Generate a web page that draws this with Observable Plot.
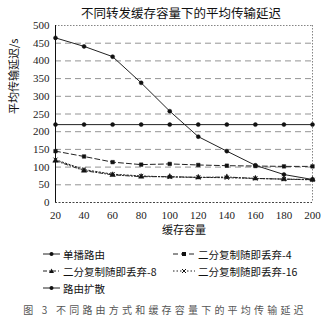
<!DOCTYPE html>
<html><head><meta charset="utf-8">
<script src="https://cdn.jsdelivr.net/npm/d3@7"></script>
<script src="https://cdn.jsdelivr.net/npm/@observablehq/plot@0.6"></script>
<style>
body{margin:0;background:#fff;width:330px;height:324px;overflow:hidden;font-family:"Noto Sans CJK SC",sans-serif;}
#title{height:18px;line-height:18px;font-size:12.5px;text-align:center;padding-left:32px;color:#111;padding-top:4px;box-sizing:border-box;height:18px}
#legend{position:relative;height:54px;font-size:10.5px;color:#111}
.item{position:absolute;display:flex;align-items:center;height:14px}
.item svg{margin-right:3px}
#caption{font-size:10px;color:#555;letter-spacing:3.2px;text-align:center;margin-top:4px}
</style></head><body>
<div id="title">不同转发缓存容量下的平均传输延迟</div>
<div id="chart"></div>
<div id="legend"></div>
<div id="caption">图 3 不同路由方式和缓存容量下的平均传输延迟</div>
<script>
const buffer = [20,40,60,80,100,120,140,160,180,200];
const unicast = [220,220,220,220,220,220,220,220,220,220];
const split4 = [145,130,114,107,109,106,104,103,102,102];
const split8 = [118,90,78,73,73,71,72,68,66,65];
const split16 = [121,93,80,75,72,71,70,68,66,64];
const epidemic = [465,441,412,338,258,186,145,105,79,65];
const seriesNames = ["单播路由","二分复制随即丢弃-4","二分复制随即丢弃-8","二分复制随即丢弃-16","路由扩散"];
const yTicks = [0,50,100,150,200,250,300,350,400,450,500];
const styles = {
  "单播路由":{dash:null,symbol:"circle"},
  "二分复制随即丢弃-4":{dash:"5,3",symbol:"square"},
  "二分复制随即丢弃-8":{dash:"4,2,1,2",symbol:"triangle"},
  "二分复制随即丢弃-16":{dash:"1.5,2",symbol:"times"},
  "路由扩散":{dash:null,symbol:"circle"}
};
const allVals = [unicast,split4,split8,split16,epidemic];
const data = [];
seriesNames.forEach((s,i)=>buffer.forEach((b,j)=>data.push({s,x:b,y:allVals[i][j]})));

const marks = [
  Plot.ruleY(yTicks.filter(d=>d>0&&d<500),{stroke:"#888",strokeDasharray:"6,4",strokeWidth:0.9}),
  Plot.ruleY([500],{stroke:"#777",strokeDasharray:"1.5,1.5",strokeWidth:0.9}),
  Plot.ruleY([0],{stroke:"#444",strokeDasharray:"2,1.5",strokeWidth:1}),
  Plot.ruleX([200],{stroke:"#777",strokeDasharray:"1.5,1.5",strokeWidth:0.9}),
  Plot.ruleX([20],{stroke:"#111",strokeWidth:1})
];
seriesNames.forEach(s=>{
  const d = data.filter(r=>r.s===s);
  marks.push(Plot.line(d,{x:"x",y:"y",stroke:"#222",strokeWidth:1,strokeDasharray:styles[s].dash}));
  marks.push(Plot.dot(d,{x:"x",y:"y",r:2,symbol:()=>styles[s].symbol,fill:styles[s].symbol==="times"?"none":"#111",stroke:"#111",strokeWidth:styles[s].symbol==="times"?1:0.5}));
});
marks.push(Plot.axisY({ticks:yTicks,tickSize:0,tickPadding:6,label:null,fontSize:11,fontFamily:"Liberation Serif",fill:"#222"}));
marks.push(Plot.axisX({ticks:buffer,tickSize:0,tickPadding:9,label:null,fontSize:11,fontFamily:"Liberation Serif",fill:"#222"}));
marks.push(Plot.text(["缓存容量"],{frameAnchor:"bottom",dy:-3,fontSize:11,fill:"#111",fontFamily:"Noto Sans CJK SC"}));
marks.push(Plot.text(["平均传输延迟/s"],{frameAnchor:"left",dx:-41,rotate:-90,fontSize:11,fill:"#111",fontFamily:"Noto Sans CJK SC"}));

const chart = Plot.plot({
  width:330,height:226,
  marginLeft:55,marginRight:18,marginTop:7,marginBottom:42,
  x:{domain:[20,200]},
  y:{domain:[0,500]},
  style:{fontFamily:"Liberation Serif",background:"#fff"},
  marks
});
document.getElementById("chart").appendChild(chart);
// fix text anchors placed relative to frame
chart.querySelectorAll("text").forEach(t=>{
  if(t.textContent==="缓存容量"){t.setAttribute("transform",`translate(${(55+312)/2},${226-8})`);}
});

const legend = document.getElementById("legend");
const pos = [[43,3],[173,3],[43,20],[173,20],[43,37]];
seriesNames.forEach((s,i)=>{
  const st = styles[s];
  const div = document.createElement("div");
  div.className="item";
  div.style.left=pos[i][0]+"px";div.style.top=pos[i][1]+"px";
  const w = i%2===1?22:17;
  let sym;
  if(st.symbol==="square") sym=`<rect x="${w/2-2}" y="5" width="4" height="4" fill="#111"/>`;
  else if(st.symbol==="triangle") sym=`<path d="M${w/2},4.5L${w/2+2.5},9L${w/2-2.5},9Z" fill="#111"/>`;
  else if(st.symbol==="times") sym=`<path d="M${w/2-2},5L${w/2+2},9M${w/2+2},5L${w/2-2},9" stroke="#111"/>`;
  else sym=`<circle cx="${w/2}" cy="7" r="2" fill="#111"/>`;
  div.innerHTML=`<svg width="${w}" height="14"><line x1="0" x2="${w}" y1="7" y2="7" stroke="#222" ${st.dash?`stroke-dasharray="${st.dash}"`:""}/>${sym}</svg><span>${s}</span>`;
  legend.appendChild(div);
});
</script>
</body></html>
